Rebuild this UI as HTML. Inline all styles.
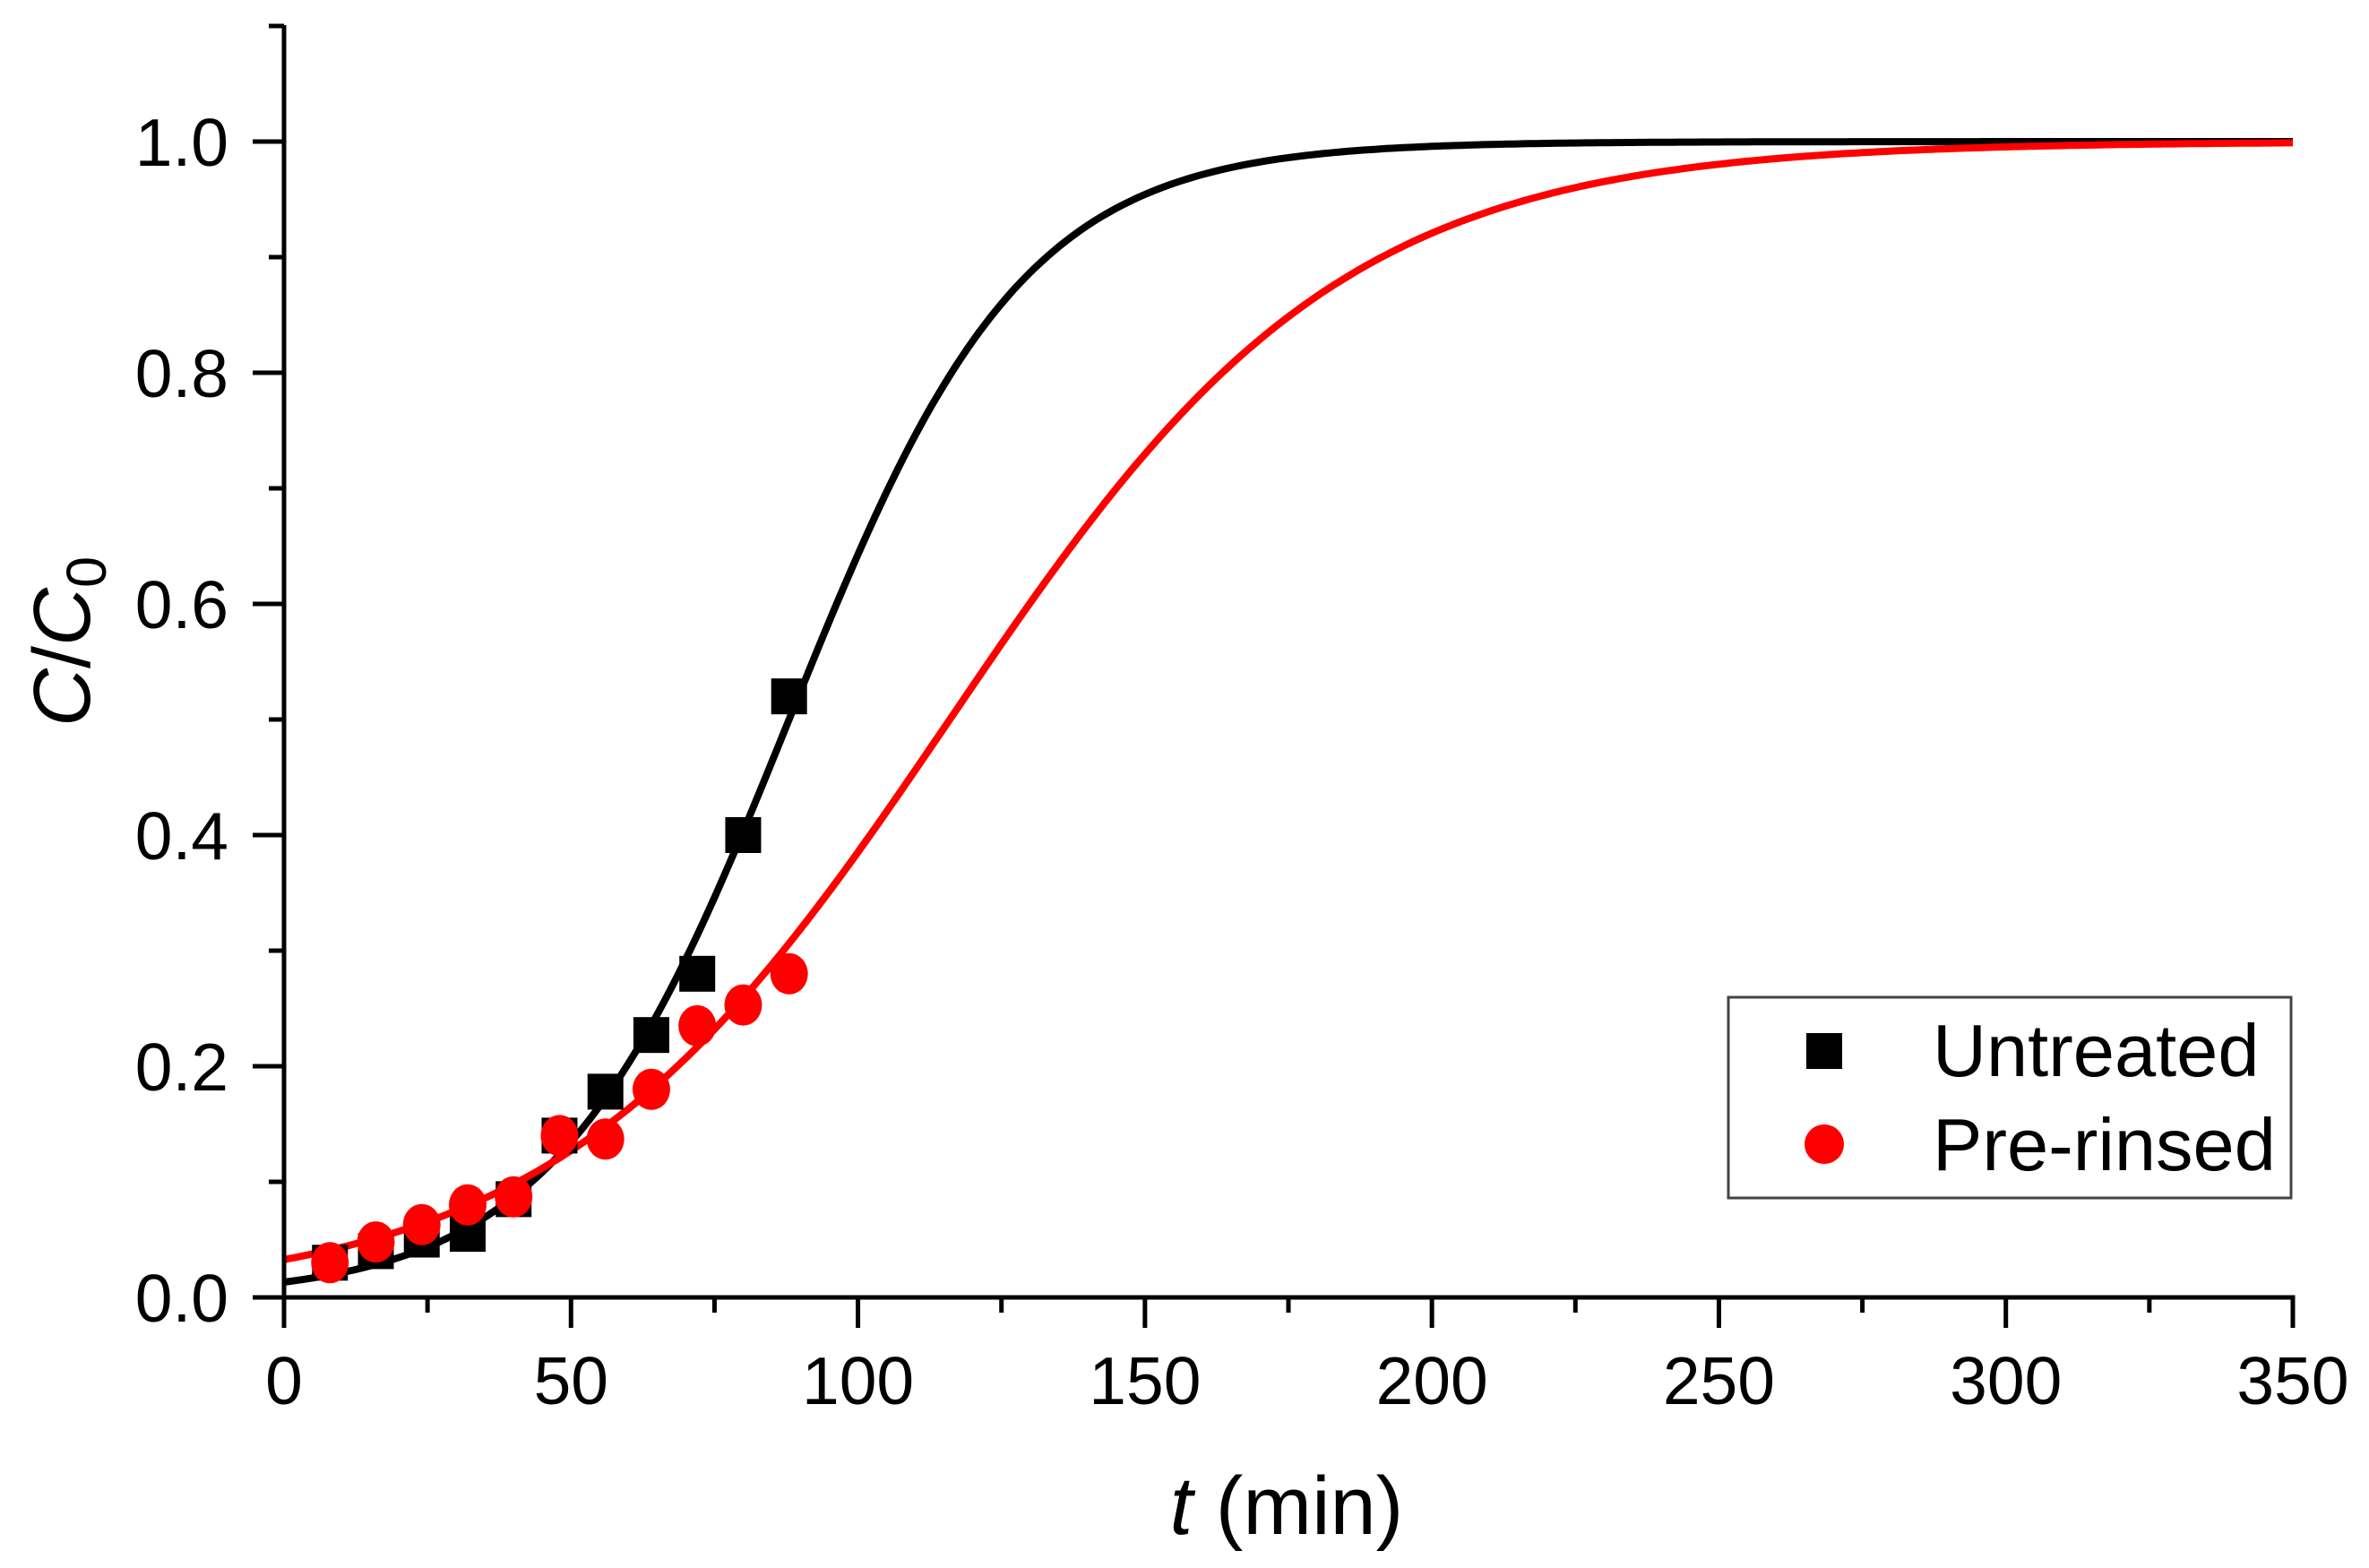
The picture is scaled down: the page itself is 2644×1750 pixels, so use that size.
<!DOCTYPE html>
<html><head><meta charset="utf-8"><style>
html,body{margin:0;padding:0;background:#fff;}
svg{display:block;font-family:"Liberation Sans",Arial,sans-serif;}
</style></head><body>
<svg id="chart" width="2644" height="1750" viewBox="0 0 2644 1750" xmlns="http://www.w3.org/2000/svg">
<g id="curves"></g>
<g id="marks"></g>
<g id="axes"></g>
<text x="1436" y="1712" font-size="92" text-anchor="middle"><tspan font-style="italic">t</tspan> (min)</text>
<text transform="translate(100,716) rotate(-90)" font-size="90" text-anchor="middle"><tspan font-style="italic">C</tspan>/<tspan font-style="italic">C</tspan><tspan font-size="63" dy="18">0</tspan></text>
<g>
<rect x="1929" y="1113" width="628" height="224" fill="#fff" stroke="#444" stroke-width="3"/>
<rect x="2016" y="1153" width="40" height="40" fill="#000"/>
<text x="2157" y="1201" font-size="83">Untreated</text>
<ellipse cx="2036" cy="1277" rx="22" ry="22" fill="#ff0000"/>
<text x="2157" y="1306" font-size="83">Pre-rinsed</text>
</g>
</svg>
<script>
const timesMin = [8,16,24,32,40,48,56,64,72,80,88];
const untreatedValues = [0.03,0.04,0.05,0.055,0.085,0.14,0.178,0.227,0.28,0.40,0.52];
const prerinsedValues = [0.03,0.048,0.063,0.08,0.087,0.14,0.137,0.18,0.235,0.253,0.28];
const untreatedFit = [88, 0.049];   // [t50, k]
const prerinsedFit = [116, 0.0292]; // [t50, k]
const xTicks = [0,50,100,150,200,250,300,350];
const yTicks = [0.0,0.2,0.4,0.6,0.8,1.0];

const X0=317, X1=2559, Y0=1448, Y1=158;
const xs = t => X0 + t*(X1-X0)/350;
const ys = v => Y0 - v*(Y0-Y1);
const NS='http://www.w3.org/2000/svg';
function mk(tag, attrs, parent){const e=document.createElementNS(NS,tag);for(const k in attrs)e.setAttribute(k,attrs[k]);parent.appendChild(e);return e;}

const curves=document.getElementById('curves');
function curve(fit,color,name){
  let d='';
  for(let t=0;t<=350;t+=1){const v=1/(1+Math.exp(fit[1]*(fit[0]-t)));d+=(t?'L':'M')+xs(t).toFixed(1)+' '+ys(v).toFixed(1);}
  const p=mk('path',{d:d,fill:'none',stroke:color,'stroke-width':8},curves);
  
  
}
curve(untreatedFit,'#000','untreated-fit-line');
curve(prerinsedFit,'#ff0000','pre-rinsed-fit-line');

const marks=document.getElementById('marks');
timesMin.forEach((t,i)=>{
  const r=mk('rect',{x:xs(t)-20,y:ys(untreatedValues[i])-20,width:40,height:40,fill:'#000'},marks);
  
  
});
timesMin.forEach((t,i)=>{
  const c=mk('ellipse',{cx:xs(t),cy:ys(prerinsedValues[i]),rx:21,ry:23,fill:'#ff0000'},marks);
  
  
});

const axes=document.getElementById('axes');
const sw=5;
let l=mk('line',{x1:X0,y1:28,x2:X0,y2:Y0+sw/2,stroke:'#000','stroke-width':sw},axes);


l=mk('line',{x1:X0-sw/2,y1:Y0,x2:X1+sw/2,y2:Y0,stroke:'#000','stroke-width':sw},axes);


for(let k=0;k<=11;k++){
  const v=k/10, major=(k%2===0 && k<=10);
  mk('line',{x1:X0-(major?35:17),y1:ys(v),x2:X0,y2:ys(v),stroke:'#000','stroke-width':sw},axes);
}
yTicks.forEach(v=>{
  const t=mk('text',{x:255,y:ys(v)+27,'font-size':75,'text-anchor':'end'},axes);
  t.textContent=v.toFixed(1);
  
  
});
for(let t=0;t<=350;t+=25){
  const major=t%50===0;
  mk('line',{x1:xs(t),y1:Y0,x2:xs(t),y2:Y0+(major?34:17),stroke:'#000','stroke-width':sw},axes);
}
xTicks.forEach(v=>{
  const t=mk('text',{x:xs(v),y:1567,'font-size':75,'text-anchor':'middle'},axes);
  t.textContent=String(v);
  
  
});
</script>
</body></html>
